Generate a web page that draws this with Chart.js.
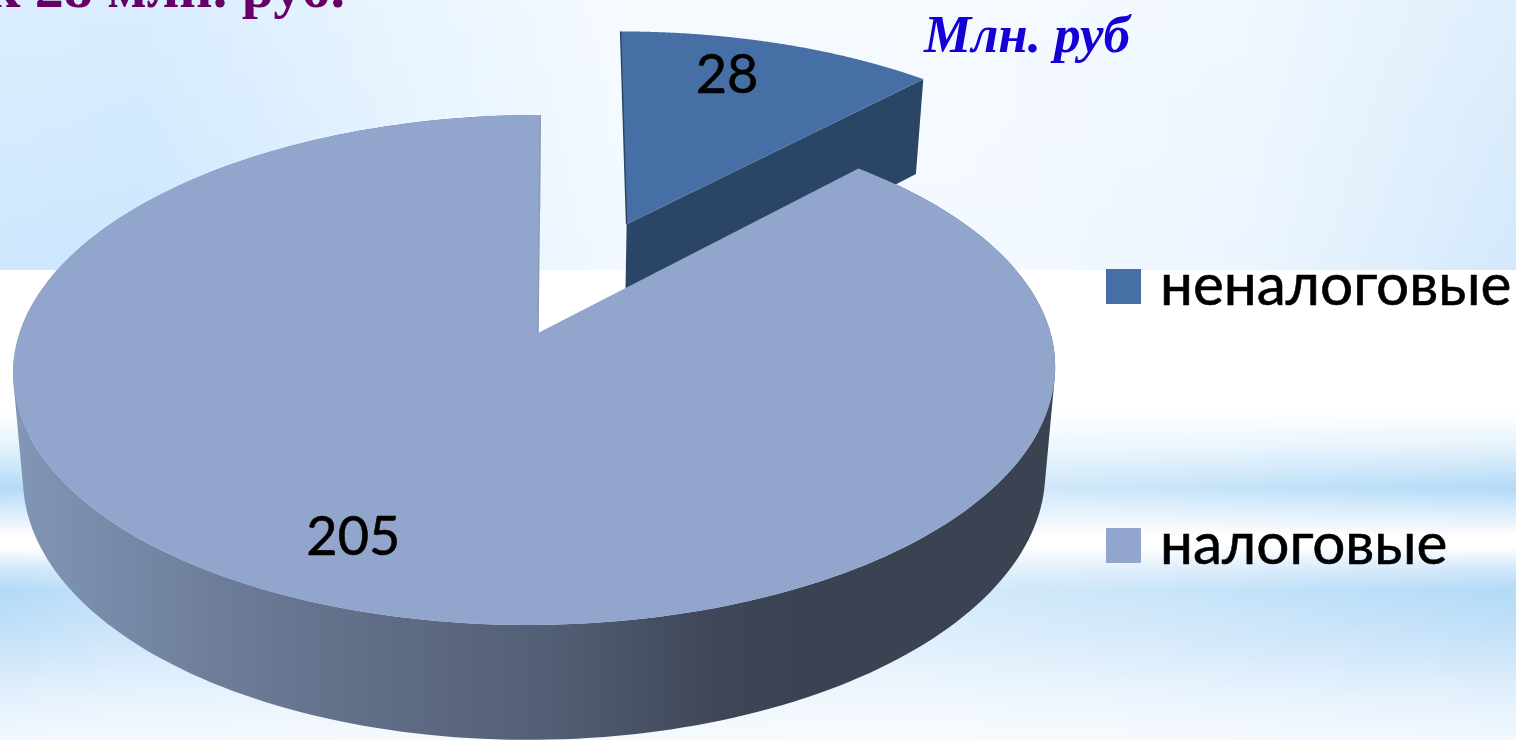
<!DOCTYPE html>
<html lang="ru">
<head>
<meta charset="utf-8">
<title>Млн. руб</title>
<script src="https://cdn.jsdelivr.net/npm/chart.js@4"></script>
<style>
html,body{margin:0;padding:0;width:1516px;height:740px;overflow:hidden;background:#fff}
#stage{position:relative;width:1516px;height:740px;overflow:hidden}
#bgTop{position:absolute;left:0;top:0;width:1516px;height:270px;
 background:linear-gradient(to bottom,rgba(255,255,255,.25) 0,rgba(255,255,255,0) 100%),
 linear-gradient(to right,#cfe8fe 0,#cce7fe 140px,#e2f1fe 400px,#f2f9ff 620px,#f3f9ff 950px,#ecf5fe 1250px,#d3e9fb 1516px)}
#bgLow{position:absolute;left:0;top:270px;width:1516px;height:470px;
 background:linear-gradient(to right,rgba(255,255,255,0) 0,rgba(255,255,255,.15) 100px,rgba(255,255,255,.45) 900px,rgba(255,255,255,.3) 1150px,rgba(255,255,255,0) 1516px),
 linear-gradient(to bottom,#fff 0,#fff 140px,#e6f3fd 175px,#b3daf7 218px,#d6ebfb 240px,#fff 267px,#fff 277px,#cfe6fa 300px,#b3daf7 320px,#c6e2f9 370px,#e2f0fc 425px,#f2f8fe 470px)}
canvas{position:absolute;left:0;top:0}
.t{position:absolute;white-space:nowrap;font-family:"Liberation Serif",serif;font-weight:bold}
#head{right:1171px;top:-45px;font-size:58px;color:#660066;line-height:66px}
#unit{left:924px;top:4px;font-size:53px;font-style:italic;color:#1400d6;line-height:60px}
</style>
</head>
<body>
<div id="stage">
<div id="bgTop"></div>
<div id="bgLow"></div>
<canvas id="c" width="1516" height="740"></canvas>
<div class="t" id="head">к 28 млн. руб.</div>
<div class="t" id="unit">Млн. руб</div>
</div>
<script>
const categories = ["неналоговые", "налоговые"];
const seriesValues = [28, 205];
const sliceColors = ["#4670a5", "#92a6cd"];
const explodeFractions = [0.5, 0];
const labelSpots = [[0.240, 0.762], [-0.307, -0.724]];
const apexNudge = [0, 3];

const VIEW = {cx: 535, cy: 333, A: 515.5, B: 249.6, k: 0.145, shear: 6};
const LABEL_FONT = 'Lato, "Open Sans", sans-serif';

function project(u, v, z) {
  const w = 1 + VIEW.k * v;
  let x = VIEW.cx + VIEW.A * u / w + VIEW.shear * v / w;
  let y = VIEW.cy - VIEW.B * v / w;
  if (z) {
    const depth = 92 + 0.0367 * y;
    x = VIEW.cx + (x - VIEW.cx) * (1 - 0.019 * z);
    y = y + depth * z;
  }
  return [x, y];
}

function addPts(ctx, pts) {
  pts.forEach((p, i) => i ? ctx.lineTo(p[0], p[1]) : ctx.moveTo(p[0], p[1]));
  ctx.closePath();
}
function tracePts(ctx, pts) {
  ctx.beginPath();
  addPts(ctx, pts);
}

const pseudo3d = {
  id: "pseudo3d",
  beforeDatasetDraw(chart) {
    const ctx = chart.ctx;
    const arcs = chart.getDatasetMeta(0).data;
    ctx.save();
    arcs.forEach((el, idx) => {
      const {startAngle, endAngle} = el.getProps(["startAngle", "endAngle"], true);
      const mid = (startAngle + endAngle) / 2;
      const ox = Math.cos(mid) * explodeFractions[idx];
      const oy = -Math.sin(mid) * explodeFractions[idx];
      const rim = [];
      const n = 240;
      for (let i = 0; i <= n; i++) {
        const a = startAngle + (endAngle - startAngle) * i / n;
        rim.push([ox + Math.cos(a), oy - Math.sin(a)]);
      }
      const topRim = rim.map(p => project(p[0], p[1], 0));
      const lowRim = rim.map(p => project(p[0], p[1], 1));
      const apexT = project(ox, oy, 0);
      const apexL = project(ox, oy, 1);
      apexT[0] += apexNudge[idx];

      if (idx === 0) {
        const last = topRim.length - 1;
        ctx.fillStyle = "#2a4565";
        tracePts(ctx, [apexT, topRim[last], lowRim[last], apexL]);
        ctx.fill();
      } else {
        const g = ctx.createLinearGradient(20, 0, 1050, 0);
        g.addColorStop(0, "#8195b4");
        g.addColorStop(0.27, "#66748f");
        g.addColorStop(0.52, "#525e74");
        g.addColorStop(0.68, "#3f4657");
        g.addColorStop(0.75, "#3b4252");
        g.addColorStop(1, "#3b4252");
        ctx.fillStyle = g;
        // one path for the whole side wall, so the strips leave no seams
        ctx.beginPath();
        for (let i = 0; i < n; i++) {
          const q = [topRim[i], topRim[i + 1], lowRim[i + 1], lowRim[i]];
          const area = (q[1][0]-q[0][0])*(q[2][1]-q[0][1]) - (q[1][1]-q[0][1])*(q[2][0]-q[0][0]);
          addPts(ctx, area < 0 ? q.slice().reverse() : q);
        }
        ctx.fill("nonzero");
      }
      ctx.fillStyle = el.options.backgroundColor;
      tracePts(ctx, [apexT].concat(topRim));
      ctx.fill();
      ctx.lineWidth = 1.5;
      ctx.strokeStyle = idx === 0 ? "#2a4565" : "#8b9ab5";
      ctx.beginPath();
      const edge = idx === 0 ? topRim[0] : topRim[topRim.length - 1];
      ctx.moveTo(edge[0], edge[1]);
      ctx.lineTo(apexT[0], apexT[1]);
      ctx.stroke();
    });

    // value labels
    ctx.fillStyle = "#000";
    ctx.strokeStyle = "#000";
    ctx.lineWidth = 0.6;
    ctx.textAlign = "center";
    ctx.textBaseline = "middle";
    ctx.font = "54px " + LABEL_FONT;
    arcs.forEach((el, idx) => {
      const {startAngle, endAngle} = el.getProps(["startAngle", "endAngle"], true);
      const mid = (startAngle + endAngle) / 2;
      const ox = Math.cos(mid) * explodeFractions[idx];
      const oy = -Math.sin(mid) * explodeFractions[idx];
      const p = project(ox + labelSpots[idx][0], oy + labelSpots[idx][1], 0);
      const txt = String(chart.data.datasets[0].data[idx]);
      ctx.fillText(txt, p[0], p[1] + 3);
      ctx.strokeText(txt, p[0], p[1] + 3);
    });

    // legend
    const rows = [269, 528];
    ctx.textAlign = "left";
    ctx.textBaseline = "alphabetic";
    ctx.font = "58.5px " + LABEL_FONT;
    chart.data.labels.forEach((name, idx) => {
      ctx.fillStyle = sliceColors[idx];
      ctx.fillRect(1106, rows[idx], 35, 35);
      ctx.fillStyle = "#000";
      ctx.fillText(name, 1160, rows[idx] + 36);
      ctx.strokeText(name, 1160, rows[idx] + 36);
    });
    ctx.restore();
    return false;
  }
};

new Chart(document.getElementById("c"), {
  type: "pie",
  data: {
    labels: categories,
    datasets: [{data: seriesValues, backgroundColor: sliceColors, borderWidth: 0}]
  },
  options: {
    responsive: false,
    animation: false,
    plugins: {legend: {display: false}, tooltip: {enabled: false}, title: {display: false}}
  },
  plugins: [pseudo3d]
});
</script>
</body>
</html>
